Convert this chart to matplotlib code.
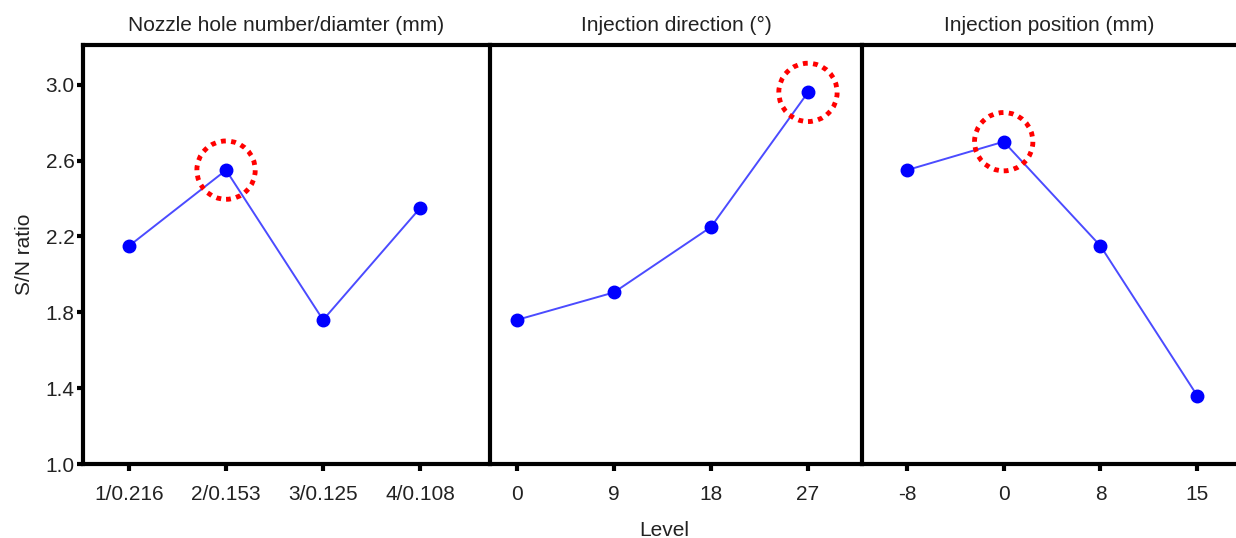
import matplotlib
matplotlib.use('Agg')
import matplotlib.pyplot as plt
import numpy as np

plt.rcParams['font.family'] = ['Liberation Sans', 'DejaVu Sans']

titles = ['Nozzle hole number/diamter (mm)', 'Injection direction (°)', 'Injection position (mm)']
labels_nozzle = ['1/0.216', '2/0.153', '3/0.125', '4/0.108']
labels_direction = ['0', '9', '18', '27']
labels_position = ['-8', '0', '8', '15']
sn_nozzle = [2.15, 2.55, 1.76, 2.35]
sn_direction = [1.76, 1.905, 2.25, 2.96]
sn_position = [2.55, 2.70, 2.15, 1.36]
best_level = [1, 3, 1]  # circled optimum level per factor

fig = plt.figure(figsize=(12.36, 5.38), dpi=100)
W, H = 1236, 538
bottom, top = 1 - 464 / H, 1 - 45 / H
edges = [83, 490, 862, 1236]
xlims = [(-0.474, 3.72), (-0.278, 3.557), (-0.464, 3.40)]

panels = [(labels_nozzle, sn_nozzle), (labels_direction, sn_direction), (labels_position, sn_position)]
axes = []
for i, (labels, vals) in enumerate(panels):
    ax = fig.add_axes([edges[i] / W, bottom, (edges[i + 1] - edges[i]) / W, top - bottom])
    x = np.arange(len(labels))
    ax.plot(x, vals, color='#4b4bff', lw=1.4, zorder=2)
    ax.plot(x, vals, 'o', color='#0000ff', ms=9, zorder=3)
    b = best_level[i]
    ax.scatter([x[b]], [vals[b]], s=42 ** 2, facecolors='none', edgecolors='red',
               linewidths=3.5, linestyles=(0, (1, 1.1)), zorder=4, clip_on=False)
    ax.set_xlim(*xlims[i])
    ax.set_ylim(1.0, 3.21)
    ax.set_xticks(x)
    ax.set_xticklabels(labels, fontsize=15, color='#222222')
    ax.set_title(titles[i], fontsize=15, color='#222222', pad=10)
    for s in ax.spines.values():
        s.set_linewidth(3)
        s.set_color('black')
    ax.spines['right'].set_visible(False)
    ax.tick_params(axis='x', length=5, width=3, pad=10)
    if i == 0:
        ax.set_yticks([1.0, 1.4, 1.8, 2.2, 2.6, 3.0])
        ax.set_yticklabels(['1.0', '1.4', '1.8', '2.2', '2.6', '3.0'], fontsize=15, color='#222222')
        ax.tick_params(axis='y', length=4, width=3, pad=2)
        ax.set_ylabel('S/N ratio', fontsize=15, color='#222222', labelpad=8)
    else:
        ax.set_yticks([])
    axes.append(ax)

fig.text(664 / W, 1 - 530 / H, 'Level', fontsize=15, color='#222222', ha='center', va='center')

plt.savefig('out.png', dpi=100)
